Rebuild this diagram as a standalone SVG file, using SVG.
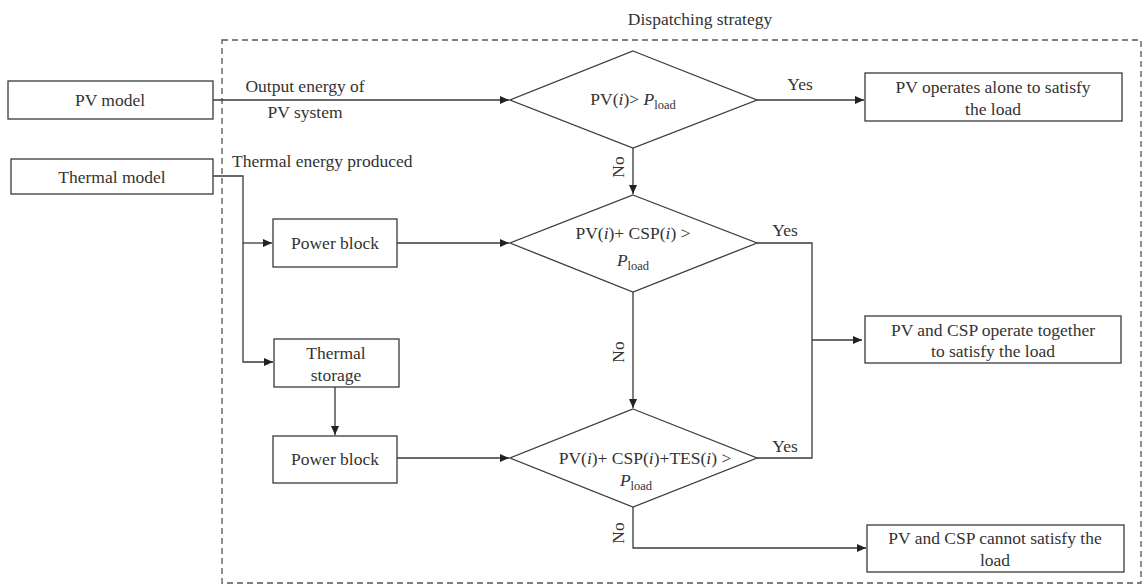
<svg xmlns="http://www.w3.org/2000/svg" width="1143" height="586" viewBox="0 0 1143 586">
  <style>
    .box { fill: #fff; stroke: #3a3a3a; stroke-width: 1.3; }
    .dia { fill: #fff; stroke: #3a3a3a; stroke-width: 1.3; }
    .ln { fill: none; stroke: #3a3a3a; stroke-width: 1.3; }
    .frame { fill: none; stroke: #555; stroke-width: 1.3; stroke-dasharray: 6 4; }
    text { font-family: "Liberation Serif", "Times New Roman", serif; font-size: 17.5px; fill: #333; }
    .c { text-anchor: middle; }
    .sub { font-size: 12.5px; }
    .it { font-style: italic; }
  </style>
  <defs>
    <marker id="arr" markerWidth="10" markerHeight="8" refX="9" refY="4" orient="auto" markerUnits="userSpaceOnUse">
      <path d="M0,0 L9,4 L0,8 Z" fill="#222"/>
    </marker>
  </defs>

  <rect width="1143" height="586" fill="#fff"/>

  <!-- dispatching strategy frame -->
  <g id="frame">
    <rect class="frame" x="222" y="40" width="919" height="543"/>
    <text x="700" y="25" class="c">Dispatching strategy</text>
  </g>

  <!-- connectors -->
  <g id="connectors">
    <line class="ln" x1="213" y1="100" x2="509" y2="100" marker-end="url(#arr)"/>
    <text x="305" y="92" class="c">Output energy of</text>
    <text x="305" y="118" class="c">PV system</text>

    <polyline class="ln" points="213,176 243,176 243,362 273,362" marker-end="url(#arr)"/>
    <line class="ln" x1="243" y1="243" x2="272" y2="243" marker-end="url(#arr)"/>
    <text x="232" y="167">Thermal energy produced</text>

    <line class="ln" x1="397" y1="243" x2="509" y2="243" marker-end="url(#arr)"/>
    <line class="ln" x1="335" y1="387" x2="335" y2="435" marker-end="url(#arr)"/>
    <line class="ln" x1="397" y1="458" x2="509" y2="458" marker-end="url(#arr)"/>

    <line class="ln" x1="757" y1="100" x2="864" y2="100" marker-end="url(#arr)"/>
    <text x="800" y="90" class="c">Yes</text>

    <line class="ln" x1="633" y1="148" x2="633" y2="194" marker-end="url(#arr)"/>
    <text x="0" y="0" class="c" transform="translate(624,167) rotate(-90)">No</text>

    <polyline class="ln" points="757,243 812,243 812,458 757,458"/>
    <line class="ln" x1="812" y1="340" x2="862" y2="340" marker-end="url(#arr)"/>
    <text x="785" y="236" class="c">Yes</text>
    <text x="785" y="452" class="c">Yes</text>

    <line class="ln" x1="633" y1="292" x2="633" y2="408" marker-end="url(#arr)"/>
    <text x="0" y="0" class="c" transform="translate(624,352) rotate(-90)">No</text>

    <polyline class="ln" points="633,507 633,548 866,548" marker-end="url(#arr)"/>
    <text x="0" y="0" class="c" transform="translate(624,533) rotate(-90)">No</text>
  </g>

  <g id="pv-model">
    <rect class="box" x="8" y="81" width="205" height="38"/>
    <text x="110" y="106" class="c">PV model</text>
  </g>

  <g id="thermal-model">
    <rect class="box" x="11" y="159" width="202" height="35"/>
    <text x="112" y="183" class="c">Thermal model</text>
  </g>

  <g id="power-block-1">
    <rect class="box" x="273" y="219" width="124" height="48"/>
    <text x="335" y="249" class="c">Power block</text>
  </g>

  <g id="thermal-storage">
    <rect class="box" x="274" y="339" width="125" height="48"/>
    <text x="336" y="359" class="c">Thermal</text>
    <text x="336" y="381" class="c">storage</text>
  </g>

  <g id="power-block-2">
    <rect class="box" x="273" y="436" width="124" height="47"/>
    <text x="335" y="465" class="c">Power block</text>
  </g>

  <g id="decision-1">
    <polygon class="dia" points="633,51 757,100 633,148 510,100"/>
    <text x="633" y="105" class="c">PV(<tspan class="it">i</tspan>)&gt; <tspan class="it">P</tspan><tspan class="sub" dy="4">load</tspan></text>
  </g>

  <g id="decision-2">
    <polygon class="dia" points="633,195 757,243 633,292 510,243"/>
    <text x="633" y="239" class="c">PV(<tspan class="it">i</tspan>)+ CSP(<tspan class="it">i</tspan>) &gt;</text>
    <text x="633" y="266" class="c"><tspan class="it">P</tspan><tspan class="sub" dy="4">load</tspan></text>
  </g>

  <g id="decision-3">
    <polygon class="dia" points="633,409 757,458 633,507 510,458"/>
    <text x="645" y="464" class="c">PV(<tspan class="it">i</tspan>)+ CSP(<tspan class="it">i</tspan>)+TES(<tspan class="it">i</tspan>) &gt;</text>
    <text x="636" y="486" class="c"><tspan class="it">P</tspan><tspan class="sub" dy="4">load</tspan></text>
  </g>

  <g id="pv-alone">
    <rect class="box" x="865" y="73" width="257" height="48"/>
    <text x="993" y="93" class="c">PV operates alone to satisfy</text>
    <text x="993" y="115" class="c">the load</text>
  </g>

  <g id="pv-csp-together">
    <rect class="box" x="865" y="316" width="256" height="47"/>
    <text x="993" y="336" class="c">PV and CSP operate together</text>
    <text x="993" y="357" class="c">to satisfy the load</text>
  </g>

  <g id="pv-csp-fail">
    <rect class="box" x="867" y="525" width="257" height="47"/>
    <text x="995" y="544" class="c">PV and CSP cannot satisfy the</text>
    <text x="995" y="566" class="c">load</text>
  </g>
</svg>
